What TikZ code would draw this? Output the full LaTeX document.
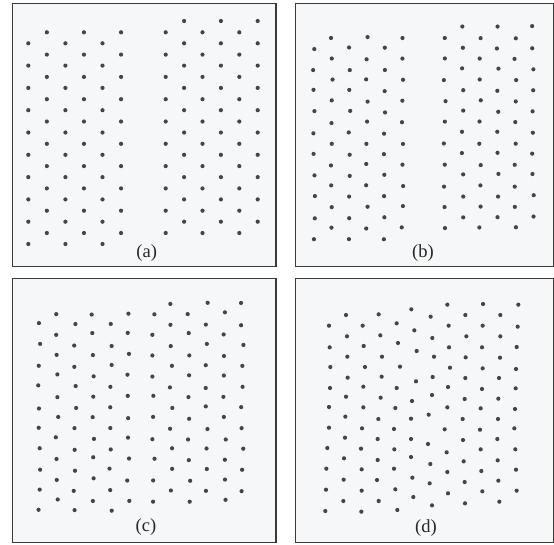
\documentclass[tikz,border=0pt]{standalone}
\usepackage{fontspec}
\setmainfont{Liberation Serif}
\definecolor{framec}{HTML}{3A3A3A}
\definecolor{bgc}{HTML}{F6F7F8}
\definecolor{dotc}{HTML}{454545}
\newcommand\dotgrid[6]{%
  \foreach \i in {0,...,5}{%
    \foreach \k in {0,...,9}{%
      \pgfmathsetmacro\xx{#1+#2*\i+#6*rand}%
      \pgfmathsetmacro\yy{(mod(\i,2)==0 ? #3 : #4)+#5*\k+#6*rand}%
      \fill[dotc] (\xx,\yy) circle[radius=2.1pt];
    }}}
\tikzset{
  panel/.style={draw=framec, line width=1.2pt, fill=bgc},
  lab/.style={font=\fontsize{18.5}{21}\selectfont, inner sep=0pt, text=black!85}
}
\begin{document}
\begin{tikzpicture}[x=1pt,y=-1pt]
\useasboundingbox (0,0) rectangle (554,544);
\pgfmathsetseed{11}
% frames
\draw[panel] (12.7,3.3) rectangle (276,266.7);
\draw[panel] (295.3,3.3) rectangle (553.4,266.7);
\draw[panel] (12.7,278.7) rectangle (276,542.7);
\draw[panel] (295.3,278.7) rectangle (553.4,542.7);
% (a)
\dotgrid{28.3}{18.55}{43.3}{32.3}{22.3}{0}
\dotgrid{165.7}{18.4}{32.3}{21}{22.3}{0}
% (b)
\dotgrid{314}{17.67}{48.3}{37.7}{21.15}{0.9}
\dotgrid{444.7}{17.66}{37.7}{26.7}{21.15}{0.9}
% (c)
\dotgrid{39.3}{17.8}{324.3}{313.3}{20.75}{1.3}
\dotgrid{153.3}{17.8}{313.3}{303.3}{20.85}{1.3}
% (d)
\foreach \a/\b in {460/44,567/42,673/44,
 156/75,254/73,352/58,410/80,514/75,619/75,
 105/107,206/107,308/100,361/121,464/107,566/107,671/110,
 159/139,259/136,415/144,517/139,619/139,
 107/172,209/168,312/159,368/183,465/172,564/172,668/171,
 160/200,264/200,420/200,515/202,618/203,
 109/231,213/231,318/230,468/233,566/235,666/237,
 161/263,263/260,366/274,416/261,514/264,615/264,
 108/294,208/290,308/294,462/291,564/297,665/295,
 156/320,260/323,354/333,414/315,512/327,613/326,
 105/351,208/352,304/354,460/352,560/355,663/357}
  \fill[dotc] ({294+\a/3},{290+\b/3}) circle[radius=2.1pt];
\foreach \a/\b in {154/20,253/27,351/26,404/14,506/27,612/27,
 105/53,204/55,300/57,452/58,558/59,661/55,
 153/83,251/87,351/87,402/102,507/90,610/87,
 100/114,201/116,301/118,458/127,560/118,664/118,
 150/145,251/150,351/141,409/162,509/154,611/151,
 97/176,203/178,300/176,460/186,562/183,666/179,
 149/209,249/210,355/203,407/220,512/216,613/212,
 96/239,203/242,304/238,358/261,462/250,565/244,668/242,
 148/273,254/273,414/286,513/280,616/275,
 94/303,202/305,310/300}
  \fill[dotc] ({294+\a/3},{410+\b/3}) circle[radius=2.1pt];
% labels
\node[lab] (la) at (146.7,253.3) {(a)};
\node[lab] (lb) at (423,253.3) {(b)};
\node[lab] (lc) at (146,527) {(c)};
\node[lab] (ld) at (426,528) {(d)};
\end{tikzpicture}
\end{document}
